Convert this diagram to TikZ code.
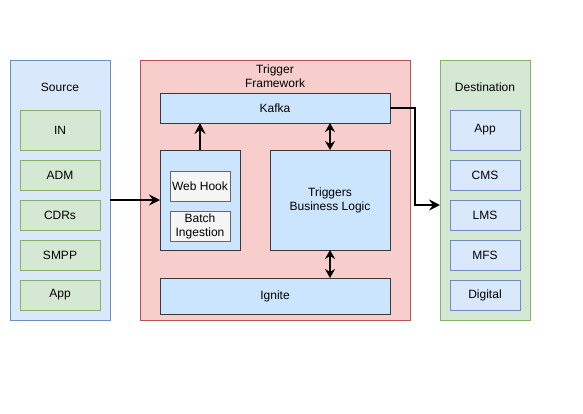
\documentclass[tikz,border=0pt]{standalone}
\usepackage{fontspec}
\setmainfont{Liberation Sans}
\usetikzlibrary{arrows.meta,calc}
\definecolor{bfill}{HTML}{DAE8FC}
\definecolor{bdraw}{HTML}{6C8EBF}
\definecolor{gfill}{HTML}{D5E8D4}
\definecolor{gdraw}{HTML}{82B366}
\definecolor{rfill}{HTML}{F8CECC}
\definecolor{rdraw}{HTML}{B85450}
\definecolor{lfill}{HTML}{CCE5FF}
\definecolor{ldraw}{HTML}{36393D}
\definecolor{yfill}{HTML}{F5F5F5}
\definecolor{ydraw}{HTML}{666666}
\tikzset{
  box/.style={rectangle, anchor=north west, inner sep=0pt, outer sep=0pt, line width=1pt,
    font=\fontsize{12}{14}\selectfont, align=center},
  bluebox/.style={box, fill=bfill, draw=bdraw},
  greenbox/.style={box, fill=gfill, draw=gdraw},
  redbox/.style={box, fill=rfill, draw=rdraw},
  lbox/.style={box, fill=lfill, draw=ldraw},
  greybox/.style={box, fill=yfill, draw=ydraw},
  lbl/.style={inner sep=0pt, font=\fontsize{12}{14}\selectfont, align=center},
  arr/.style={line width=2pt, -{Stealth[length=11pt,width=11pt,inset=4pt]}},
  darr/.style={line width=2pt, {Stealth[length=9pt,width=10pt,inset=3pt]}-{Stealth[length=9pt,width=10pt,inset=3pt]}}
}
\begin{document}
\begin{tikzpicture}[x=1pt,y=-1pt]
\useasboundingbox[fill=white] (0,0) rectangle (583,413);
% Source
\node[bluebox, minimum width=100pt, minimum height=260pt] (source) at (10,60) {};
\node[lbl] (sourcet) at (60,87) {Source};
\node[greenbox, minimum width=80pt, minimum height=40pt] (in) at (20,110) {IN};
\node[greenbox, minimum width=80pt, minimum height=30pt] (adm) at (20,160) {ADM};
\node[greenbox, minimum width=80pt, minimum height=30pt] (cdrs) at (20,200) {CDRs};
\node[greenbox, minimum width=80pt, minimum height=30pt] (smpp) at (20,240) {SMPP};
\node[greenbox, minimum width=80pt, minimum height=30pt] (app) at (20,280) {App};
% Trigger framework
\node[redbox, minimum width=270pt, minimum height=260pt] (tf) at (140,60) {};
\node[lbl] (tft) at (275,76.5) {Trigger\\Framework};
\node[lbox, minimum width=230pt, minimum height=30pt] (kafka) at (160,93) {Kafka};
\node[lbox, minimum width=80pt, minimum height=100pt] (ingest) at (160,150) {};
\node[greybox, minimum width=60pt, minimum height=30pt] (webhook) at (170,171) {Web Hook};
\node[greybox, minimum width=60pt, minimum height=30pt] (batch) at (170,211) {Batch\\Ingestion};
\node[lbox, minimum width=120pt, minimum height=100pt] (logic) at (270,150) {Triggers\\Business Logic};
\node[lbox, minimum width=230pt, minimum height=36pt] (ignite) at (160,278) {Ignite};
% Destination
\node[greenbox, minimum width=90pt, minimum height=260pt] (dest) at (440,60) {};
\node[lbl] (destt) at (485,87) {Destination};
\node[bluebox, minimum width=70pt, minimum height=40pt] (dapp) at (450,110) {App};
\node[bluebox, minimum width=70pt, minimum height=30pt] (cms) at (450,160) {CMS};
\node[bluebox, minimum width=70pt, minimum height=30pt] (lms) at (450,200) {LMS};
\node[bluebox, minimum width=70pt, minimum height=30pt] (mfs) at (450,240) {MFS};
\node[bluebox, minimum width=70pt, minimum height=30pt] (digital) at (450,280) {Digital};
% connectors
\draw[arr] (source.east |- ingest.west) -- (ingest.west);
\draw[arr] (ingest.north) -- (ingest.north |- kafka.south);
\draw[darr] (logic.north |- kafka.south) -- (logic.north);
\draw[darr] (logic.south) -- (logic.south |- ignite.north);
\draw[arr] (kafka.east) -- ++(25,0) |- ([yshift=-15pt]dest.west);
\end{tikzpicture}
\end{document}
